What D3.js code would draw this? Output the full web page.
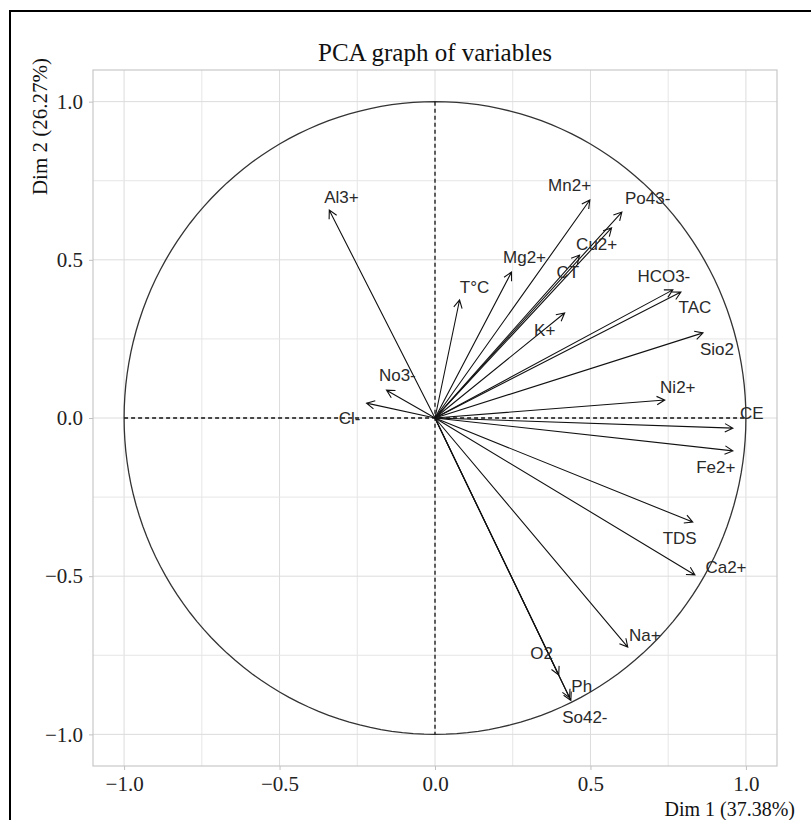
<!DOCTYPE html>
<html>
<head>
<meta charset="utf-8">
<script src="https://cdn.jsdelivr.net/npm/d3@7/dist/d3.min.js"></script>
<style>
  html, body { margin: 0; padding: 0; background: #fff; }
  svg { display: block; }
</style>
</head>
<body>
<svg id="chart" width="811" height="820"></svg>
<script>
// ---- Data ----
const variables = ["Al3+","Mn2+","Po43-","Cu2+","CT","Mg2+","T°C","K+","HCO3-","TAC","Sio2","Ni2+","CE","Fe2+","TDS","Ca2+","Na+","O2","Ph","So42-","No3-","Cl-"];
const dim1 = [-0.340, 0.498, 0.601, 0.568, 0.465, 0.246, 0.079, 0.417, 0.791, 0.765, 0.862, 0.739, 0.958, 0.958, 0.829, 0.836, 0.620, 0.398, 0.433, 0.437, -0.156, -0.220];
const dim2 = [0.657, 0.689, 0.651, 0.601, 0.515, 0.461, 0.373, 0.332, 0.398, 0.405, 0.269, 0.057, -0.032, -0.104, -0.329, -0.496, -0.724, -0.812, -0.884, -0.893, 0.088, 0.047];
// label anchor positions (data units), as placed by the plotting package
const labelDim1 = [-0.301, 0.433, 0.684, 0.520, 0.427, 0.288, 0.127, 0.353, 0.736, 0.836, 0.907, 0.781, 1.019, 0.903, 0.787, 0.936, 0.675, 0.343, 0.472, 0.482, -0.121, -0.275];
const labelDim2 = [0.698, 0.736, 0.695, 0.550, 0.461, 0.506, 0.414, 0.278, 0.446, 0.348, 0.215, 0.095, 0.013, -0.158, -0.382, -0.471, -0.686, -0.743, -0.850, -0.948, 0.133, -0.003];
const xTicks = [-1.0, -0.5, 0.0, 0.5, 1.0];
const yTicks = [-1.0, -0.5, 0.0, 0.5, 1.0];
const minorTicks = [-0.75, -0.25, 0.25, 0.75];
const title = "PCA graph of variables";
const xTitle = "Dim 1 (37.38%)";
const yTitle = "Dim 2 (26.27%)";

// ---- Layout ----
const svg = d3.select("#chart");
const panel = { left: 93, right: 777, top: 70, bottom: 766 };
const x = d3.scaleLinear().domain([-1.1, 1.1]).range([panel.left, panel.right]);
const y = d3.scaleLinear().domain([-1.1, 1.1]).range([panel.bottom, panel.top]);

// outer frame (top + left borders)
svg.append("line").attr("x1", 10).attr("x2", 811).attr("y1", 11).attr("y2", 11)
  .attr("stroke", "#000").attr("stroke-width", 2);
svg.append("line").attr("x1", 10).attr("x2", 10).attr("y1", 10).attr("y2", 820)
  .attr("stroke", "#000").attr("stroke-width", 2);

// panel background
svg.append("rect").attr("x", panel.left).attr("y", panel.top)
  .attr("width", panel.right - panel.left).attr("height", panel.bottom - panel.top)
  .attr("fill", "#fff");

// grid
const grid = svg.append("g");
[...minorTicks, ...xTicks].forEach(v => {
  grid.append("line").attr("x1", x(v)).attr("x2", x(v)).attr("y1", panel.top).attr("y2", panel.bottom)
    .attr("stroke", xTicks.includes(v) ? "#dcdcdc" : "#e6e6e6").attr("stroke-width", 1);
});
[...minorTicks, ...yTicks].forEach(v => {
  grid.append("line").attr("y1", y(v)).attr("y2", y(v)).attr("x1", panel.left).attr("x2", panel.right)
    .attr("stroke", yTicks.includes(v) ? "#dcdcdc" : "#e6e6e6").attr("stroke-width", 1);
});
svg.append("rect").attr("x", panel.left).attr("y", panel.top)
  .attr("width", panel.right - panel.left).attr("height", panel.bottom - panel.top)
  .attr("fill", "none").attr("stroke", "#c8c8c8").attr("stroke-width", 1.2);

// axes
const fmt = d => d.toFixed(1).replace("-", "\u2212");
const xAxis = d3.axisBottom(x).tickValues(xTicks).tickFormat(fmt).tickSize(4).tickPadding(5);
const yAxis = d3.axisLeft(y).tickValues(yTicks).tickFormat(fmt).tickSize(4).tickPadding(6);
const gx = svg.append("g").attr("transform", `translate(0,${panel.bottom})`).call(xAxis);
const gy = svg.append("g").attr("transform", `translate(${panel.left},0)`).call(yAxis);
[gx, gy].forEach(g => {
  g.select(".domain").remove();
  g.selectAll(".tick line").attr("stroke", "#c0c0c0");
  g.selectAll(".tick text").attr("fill", "#222")
    .style("font-family", "'Liberation Serif', 'DejaVu Serif', serif").style("font-size", "21px");
});
gx.selectAll(".tick text").attr("dy", "0.78em");

// titles
svg.append("text").attr("x", (panel.left + panel.right) / 2).attr("y", 61)
  .attr("text-anchor", "middle").attr("fill", "#111")
  .style("font-family", "'Liberation Serif', serif").style("font-size", "25px").text(title);
svg.append("text").attr("x", 795).attr("y", 816)
  .attr("text-anchor", "end").attr("fill", "#111")
  .style("font-family", "'Liberation Serif', serif").style("font-size", "20px").text(xTitle);
svg.append("text").attr("transform", "translate(47,58) rotate(-90)")
  .attr("text-anchor", "end").attr("fill", "#111")
  .style("font-family", "'Liberation Serif', serif").style("font-size", "21px").text(yTitle);

// correlation circle
const circ = d3.range(0, 361, 2).map(a => [Math.cos(a * Math.PI / 180), Math.sin(a * Math.PI / 180)]);
svg.append("path")
  .attr("d", d3.line().x(d => x(d[0])).y(d => y(d[1]))(circ))
  .attr("fill", "none").attr("stroke", "#333").attr("stroke-width", 1.3);

// dashed axes lines
svg.append("line").attr("x1", x(-1)).attr("x2", x(1)).attr("y1", y(0)).attr("y2", y(0))
  .attr("stroke", "#111").attr("stroke-width", 1.3).attr("stroke-dasharray", "4,3");
svg.append("line").attr("x1", x(0)).attr("x2", x(0)).attr("y1", y(1)).attr("y2", y(-1))
  .attr("stroke", "#111").attr("stroke-width", 1.3).attr("stroke-dasharray", "4,3");

// arrows
const arrows = svg.append("g");
const headLen = 9, headAng = 28 * Math.PI / 180;
variables.forEach((v, i) => {
  const x0 = x(0), y0 = y(0), x1 = x(dim1[i]), y1 = y(dim2[i]);
  const ang = Math.atan2(y1 - y0, x1 - x0);
  const p1 = [x1 - headLen * Math.cos(ang - headAng), y1 - headLen * Math.sin(ang - headAng)];
  const p2 = [x1 - headLen * Math.cos(ang + headAng), y1 - headLen * Math.sin(ang + headAng)];
  arrows.append("path")
    .attr("d", `M${x0},${y0}L${x1},${y1}M${p1[0]},${p1[1]}L${x1},${y1}L${p2[0]},${p2[1]}`)
    .attr("fill", "none").attr("stroke", "#111").attr("stroke-width", 1.1);
});

// labels
const labels = svg.append("g");
variables.forEach((v, i) => {
  labels.append("text")
    .attr("x", x(labelDim1[i])).attr("y", y(labelDim2[i]))
    .attr("text-anchor", "middle").attr("dominant-baseline", "central")
    .attr("fill", "#2a2a2a")
    .style("font-family", "'Liberation Sans', Arial, sans-serif").style("font-size", "17px")
    .text(v);
});
</script>
</body>
</html>
